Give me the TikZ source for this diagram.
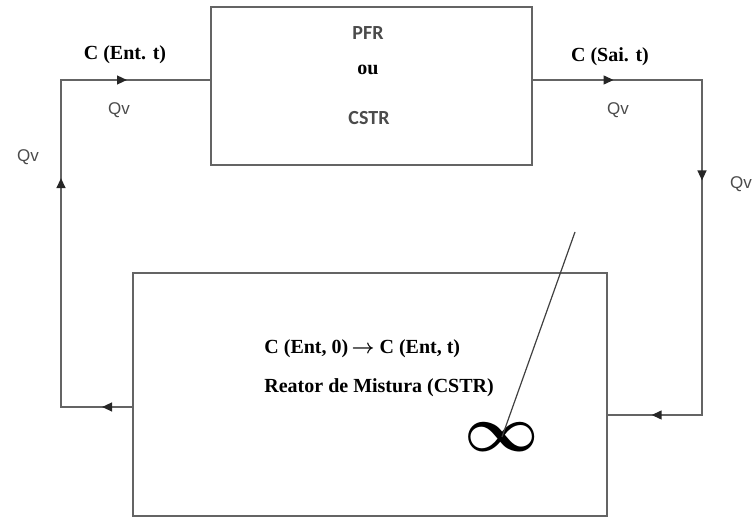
\documentclass[tikz,border=0pt]{standalone}
\usepackage{fontspec}
\setmainfont{Liberation Serif}
\newfontfamily\qvfont{Liberation Sans}
\newfontfamily\boxfont{Carlito}
\usepackage{amsmath}
\usepackage{bm}
\usepackage{graphicx}
\usetikzlibrary{arrows.meta,decorations.markings}
\definecolor{linegray}{RGB}{100,100,100}
\definecolor{textgray}{RGB}{75,75,75}
\tikzset{reactor/.style={rectangle, draw=linegray, line width=1pt, inner sep=0pt, outer sep=0pt}}
\tikzset{pipe/.style={draw=linegray, line width=0.9pt, line cap=rect, postaction={decorate},
  decoration={markings, mark=at position #1 with {\arrow[black!85]{Triangle[length=5pt,width=4.4pt]}}}}}
\tikzset{flowlabel/.style={font=\bfseries\fontsize{10}{12}\selectfont, inner sep=1pt}}
\tikzset{boxlabel/.style={font=\boxfont\bfseries\fontsize{10}{12}\selectfont, text=textgray, inner sep=1pt}}
\tikzset{qvlabel/.style={font=\qvfont\fontsize{8.5}{10}\selectfont, text=textgray, inner sep=1pt}}

\begin{document}
\begin{tikzpicture}[x=0.5pt,y=-0.5pt]
  \useasboundingbox (0,0) rectangle (752,517);
  % reactors
  \node[reactor, minimum width=160.5pt, minimum height=79pt] (pfr) at (371.5,86) {};
  \node[reactor, minimum width=237pt, minimum height=121.5pt] (mix) at (370,394.5) {};
  \node[boxlabel] (pfrtxt) at (368,33) {PFR};
  \node[flowlabel] (ou) at (368,70) {ou};
  \node[boxlabel] (cstrtxt) at (369,118) {CSTR};
  % recycle loop
  \coordinate (lt) at (61,80);
  \coordinate (lb) at (61,407);
  \coordinate (rt) at (702,80);
  \coordinate (rb) at (702,415);
  \draw[pipe=0.43] (mix.west |- lb) -- (lb);
  \draw[pipe=0.70] (lb) -- (lt);
  \draw[pipe=0.44] (lt) -- (lt -| pfr.west);
  \draw[pipe=0.48] (rt -| pfr.east) -- (rt);
  \draw[pipe=0.30] (rt) -- (rb);
  \draw[pipe=0.53] (rb) -- (rb -| mix.east);
  % labels
  \node[flowlabel] (entlbl) at (125,55) {C (Ent. t)};
  \node[qvlabel] (qvin) at (119,110) {Qv};
  \node[flowlabel] (sailbl) at (610,57) {C (Sai. t)};
  \node[qvlabel] (qvout) at (618,110) {Qv};
  \node[qvlabel] (qvright) at (741,184) {Qv};
  \node[qvlabel] (qvleft) at (28,157) {Qv};
  \node[flowlabel, anchor=west] (conc) at (262,349) {C (Ent, 0)\,$\boldsymbol{\rightarrow}$ C (Ent, t)};
  \node[flowlabel, anchor=west] (mixtxt) at (262,388) {Reator de Mistura (CSTR)};
  % stirrer
  \node[inner sep=0pt] (stir) at (502,437) {\scalebox{1.3}{\Huge$\boldsymbol{\infty}$}};
  \coordinate (shaft) at (575,232);
  \draw[black!75, line width=0.6pt] (shaft) -- (stir.center);
\end{tikzpicture}
\end{document}
